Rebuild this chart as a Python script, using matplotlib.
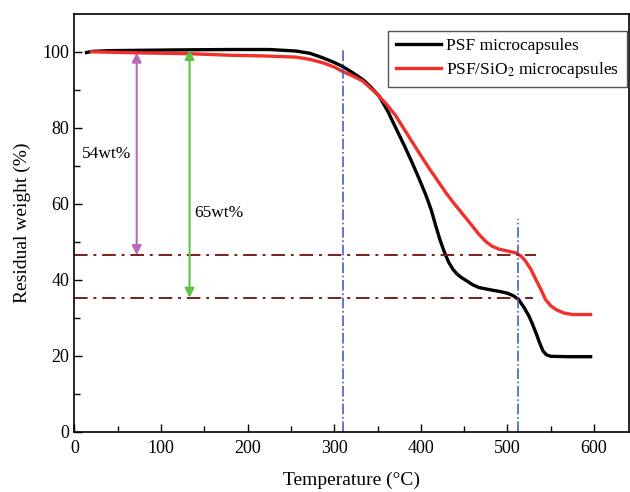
import matplotlib
matplotlib.use("Agg")
import matplotlib.pyplot as plt

plt.rcParams['font.family'] = ['Liberation Serif', 'DejaVu Serif']
plt.rcParams['mathtext.fontset'] = 'stix'

# PSF microcapsules
t_psf = [14, 20, 40, 80, 120, 180, 225, 256, 272, 287, 300, 309, 320, 333, 342,
         352, 362, 371, 381, 390, 398, 406, 412, 417, 422, 427, 432, 437, 442,
         447, 454, 460, 467, 480, 490, 500, 507, 513, 519, 525, 529, 533, 537,
         541, 545, 550, 570, 596]
w_psf = [99.8, 100.1, 100.3, 100.4, 100.5, 100.6, 100.6, 100.2, 99.6, 98.4, 97.2,
         96.2, 94.7, 92.7, 90.8, 88.3, 84.3, 80.0, 75.3, 70.8, 66.6, 62.2, 58.4,
         54.4, 50.6, 47.4, 44.7, 42.8, 41.5, 40.6, 39.6, 38.7, 38.0, 37.4, 37.0,
         36.5, 35.8, 34.8, 32.8, 30.4, 28.3, 26.0, 23.5, 21.3, 20.3, 19.9, 19.8,
         19.8]

# PSF/SiO2 microcapsules
t_sio2 = [20, 40, 80, 133, 179, 220, 256, 272, 287, 300, 309, 320, 333, 348, 360,
          371, 380, 390, 400, 410, 420, 429, 438, 448, 458, 467, 475, 482, 490,
          500, 510, 516, 521, 527, 533, 539, 544, 550, 556, 565, 575, 596]
w_sio2 = [100.0, 99.9, 99.7, 99.5, 99.1, 98.9, 98.6, 98.0, 97.1, 96.0, 94.9,
          93.8, 92.3, 89.2, 86.3, 83.2, 79.9, 76.3, 72.7, 69.2, 65.9, 62.9, 60.2,
          57.4, 54.6, 52.0, 50.1, 48.9, 48.1, 47.6, 47.1, 46.2, 44.9, 42.8, 40.0,
          37.3, 34.8, 33.2, 32.2, 31.3, 30.9, 30.9]

v_lines = [310, 512]
v_tops = [101, 56]
h_levels = [46.5, 35.3]
h_ends = [533, 529]

fig = plt.figure(figsize=(6.3, 4.92), dpi=100)
ax = fig.add_axes([0.118, 0.122, 0.880, 0.850])

ax.plot(t_psf, w_psf, color='black', lw=2.4, label='PSF microcapsules')
ax.plot(t_sio2, w_sio2, color='#F0302A', lw=2.4, label='PSF/SiO$_2$ microcapsules')

for x, top in zip(v_lines, v_tops):
    ax.plot([x, x], [0, top], color='#4262C0', lw=1.2, ls='-.')
for y, end in zip(h_levels, h_ends):
    ax.plot([0, end], [y, y], color='#7A1F1F', lw=1.4, ls=(0, (7, 3, 1.5, 3)))

ax.annotate('', xy=(72, 46.5), xytext=(72, 99.8),
            arrowprops=dict(arrowstyle='<|-|>', color='#B86AB8', lw=1.5,
                            shrinkA=0, shrinkB=0, mutation_scale=14))
ax.annotate('', xy=(133, 35.3), xytext=(133, 100.5),
            arrowprops=dict(arrowstyle='<|-|>', color='#5CC444', lw=1.5,
                            shrinkA=0, shrinkB=0, mutation_scale=14))
ax.text(9, 73, '54wt%', fontsize=12.5, va='center')
ax.text(139, 57.5, '65wt%', fontsize=12.5, va='center')

ax.set_xlim(0, 640)
ax.set_ylim(0, 110)
ax.set_xticks(range(0, 601, 100))
ax.set_xticks(range(50, 601, 100), minor=True)
ax.set_yticks(range(0, 101, 20))
ax.set_yticks(range(10, 101, 20), minor=True)
ax.tick_params(which='both', direction='in', labelsize=13)
ax.tick_params(which='major', length=6, width=1)
ax.tick_params(which='minor', length=4, width=1)
ax.tick_params(axis='x', pad=6)
for s in ax.spines.values():
    s.set_linewidth(1.2)

ax.set_xlabel('Temperature (°C)', fontsize=14, labelpad=10)
ax.set_ylabel('Residual weight (%)', fontsize=14, labelpad=8)

leg = ax.legend(loc='upper right', bbox_to_anchor=(0.997, 0.96), fontsize=12.5,
                fancybox=False, edgecolor='#555555', framealpha=1, borderaxespad=0,
                handlelength=2.6, handletextpad=0.3, borderpad=0.45, labelspacing=0.3)
leg.get_frame().set_linewidth(1.0)

fig.savefig('out.png', dpi=100)
